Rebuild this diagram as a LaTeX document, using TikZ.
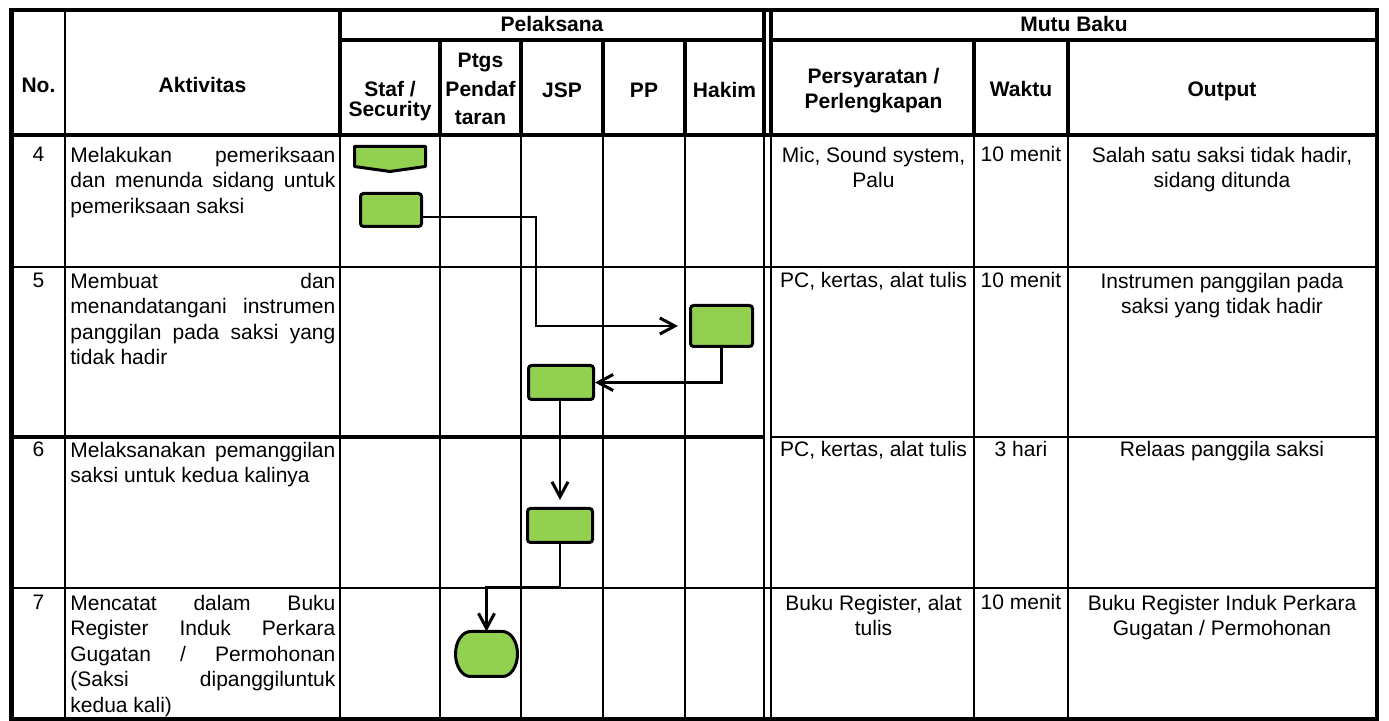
\documentclass[tikz,border=0pt]{standalone}
\usepackage{fontspec}
\setmainfont{Liberation Sans}
\usetikzlibrary{arrows.meta}
\definecolor{boxgreen}{HTML}{92D050}
\newlength\aw \setlength\aw{132.5pt}
\newcommand\jl[1]{\makebox[\aw][s]{\strut #1}}
\begin{document}
\begin{tikzpicture}[x=0.5pt,y=-0.5pt,
  thk/.style={line width=2pt},
  med/.style={line width=1.4pt},
  thn/.style={line width=1pt},
  body/.style={inner sep=0pt, font=\fontsize{10.5}{12.75}\selectfont},
  head/.style={inner sep=0pt, font=\bfseries\fontsize{10.5}{12.75}\selectfont},
  box/.style={draw=black, line width=1.5pt, fill=boxgreen, rounded corners=1.5pt, inner sep=0pt},
  shapeline/.style={draw=black, line width=1.5pt, fill=boxgreen, line join=round},
  ghost/.style={inner sep=0pt, outer sep=0pt},
  conn/.style={line width=1.2pt, -{Straight Barb[length=7.5pt,width=8pt,line width=1.5pt]}}
  ]
\useasboundingbox (0,0) rectangle (1389,721);

% ---------- grid ----------
\draw[line width=2.25pt] (11.5,10) rectangle (1377,719);
\draw[thk] (340,40) -- (764,40) (771,40) -- (1377,40);
\draw[thk] (11.5,135) -- (1377,135);
\draw[thn] (11.5,267) -- (1377,267);
\draw[thk] (11.5,437) -- (764,437);
\draw[thn] (771,437) -- (1377,437);
\draw[thn] (11.5,588) -- (1377,588);
\draw[med] (65,10) -- (65,719);
\draw[thk] (340,10) -- (340,135);
\draw[line width=1.2pt] (340,135) -- (340,719);
\foreach \cx in {440,521,603,685,974,1068}{
  \draw[thk] (\cx,40) -- (\cx,135);
  \draw[thn] (\cx,135) -- (\cx,719);
}
\draw[thk] (764,10) -- (764,135) (771,10) -- (771,135);
\draw[line width=1.2pt] (764,135) -- (764,719) (771,135) -- (771,719);

% ---------- header ----------
\node[head, anchor=base] (hNo) at (38.5,93) {No.};
\node[head, anchor=base] (hAkt) at (202.5,93) {Aktivitas};
\node[head, anchor=base] (hPel) at (552,32) {Pelaksana};
\node[head, anchor=base] (hMutu) at (1074,32) {Mutu Baku};
\node[head, anchor=base] (hStaf1) at (390,97) {Staf /};
\node[head, anchor=base] (hStaf2) at (390,117) {Security};
\node[head, anchor=base] (hPt1) at (480.5,68) {Ptgs};
\node[head, anchor=base] (hPt2) at (480.5,97) {Pendaf};
\node[head, anchor=base] (hPt3) at (480.5,125) {taran};
\node[head, anchor=base] (hJSP) at (562,98) {JSP};
\node[head, anchor=base] (hPP) at (644,98) {PP};
\node[head, anchor=base] (hHak) at (724.5,98) {Hakim};
\node[head, anchor=north, align=center, font=\bfseries\fontsize{10.5}{12.5}\selectfont] (hPers) at (873.5,65.5) {\strut Persyaratan /\\\strut Perlengkapan};
\node[head, anchor=base] (hWak) at (1021,97) {Waktu};
\node[head, anchor=base] (hOut) at (1222,97) {Output};

% ---------- row 4 ----------
\node[body, anchor=base] (n4) at (38.5,162) {4};
\node[body, anchor=north west, align=left] (a4) at (70,144.15) {\jl{Melakukan pemeriksaan}\\\jl{dan menunda sidang untuk}\\\strut pemeriksaan saksi};
\node[body, anchor=north, align=center] (p4) at (873.5,144.15) {\strut Mic, Sound system,\\\strut Palu};
\node[body, anchor=base] (w4) at (1021,162) {10 menit};
\node[body, anchor=north, align=center] (o4) at (1222,144.15) {\strut Salah satu saksi tidak hadir,\\\strut sidang ditunda};

% ---------- row 5 ----------
\node[body, anchor=base] (n5) at (38.5,288) {5};
\node[body, anchor=north west, align=left] (a5) at (70,270.15) {\jl{Membuat dan}\\\jl{menandatangani instrumen}\\\jl{panggilan pada saksi yang}\\\strut tidak hadir};
\node[body, anchor=base] (p5) at (873.5,288) {PC, kertas, alat tulis};
\node[body, anchor=base] (w5) at (1021,288) {10 menit};
\node[body, anchor=north, align=center] (o5) at (1222,270.15) {\strut Instrumen panggilan pada\\\strut saksi yang tidak hadir};

% ---------- row 6 ----------
\node[body, anchor=base] (n6) at (38.5,457) {6};
\node[body, anchor=north west, align=left] (a6) at (70,439.15) {\jl{Melaksanakan pemanggilan}\\\strut saksi untuk kedua kalinya};
\node[body, anchor=base] (p6) at (873.5,457) {PC, kertas, alat tulis};
\node[body, anchor=base] (w6) at (1021,457) {3 hari};
\node[body, anchor=base] (o6) at (1222,457) {Relaas panggila saksi};

% ---------- row 7 ----------
\node[body, anchor=base] (n7) at (38.5,610) {7};
\node[body, anchor=north west, align=left] (a7) at (70,592.15) {\jl{Mencatat dalam Buku}\\\jl{Register Induk Perkara}\\\jl{Gugatan / Permohonan}\\\jl{(Saksi dipanggiluntuk}\\\strut kedua kali)};
\node[body, anchor=north, align=center] (p7) at (873.5,592.15) {\strut Buku Register, alat\\\strut tulis};
\node[body, anchor=base] (w7) at (1021,610) {10 menit};
\node[body, anchor=north, align=center] (o7) at (1222,592.15) {\strut Buku Register Induk Perkara\\\strut Gugatan / Permohonan};

% ---------- flow shapes ----------
\node[ghost, minimum width=35.5pt, minimum height=12.5pt] (OP) at (390,159) {};
\draw[shapeline] (OP.north west) -- (OP.north east) -- ([yshift=2.5pt]OP.south east) -- (OP.south) -- ([yshift=2.5pt]OP.south west) -- cycle;
\node[box, minimum width=30.5pt, minimum height=16.5pt] (A) at (391,210) {};
\node[box, minimum width=31pt, minimum height=20.5pt] (B) at (721.5,326) {};
\node[box, minimum width=32.5pt, minimum height=17pt] (C) at (561,382.5) {};
\node[box, minimum width=32.5pt, minimum height=17pt] (D) at (560,525.5) {};
\node[ghost, minimum width=31pt, minimum height=22.5pt] (E) at (486.5,654) {};
\draw[shapeline] ([xshift=7.5pt]E.north west) -- ([xshift=-7.5pt]E.north east)
  arc[start angle=90, end angle=-90, x radius=7.5pt, y radius=11.25pt]
  -- ([xshift=7.5pt]E.south west)
  arc[start angle=270, end angle=90, x radius=7.5pt, y radius=11.25pt] -- cycle;

% ---------- connectors ----------
\coordinate (j1) at (536,217);
\coordinate (y587) at (0,587);
\coordinate (k4) at (E.north |- y587);
\draw[conn] ([yshift=-3.5pt]A.east) -- (j1) |- ([xshift=-5.5pt]B.west);
\draw[conn] (B.south) |- (C.east);
\draw[conn] (C.south -| D.north) -- ([yshift=3.5pt]D.north);
\draw[conn] (D.south) |- (k4) -- (E.north);
\end{tikzpicture}
\end{document}
